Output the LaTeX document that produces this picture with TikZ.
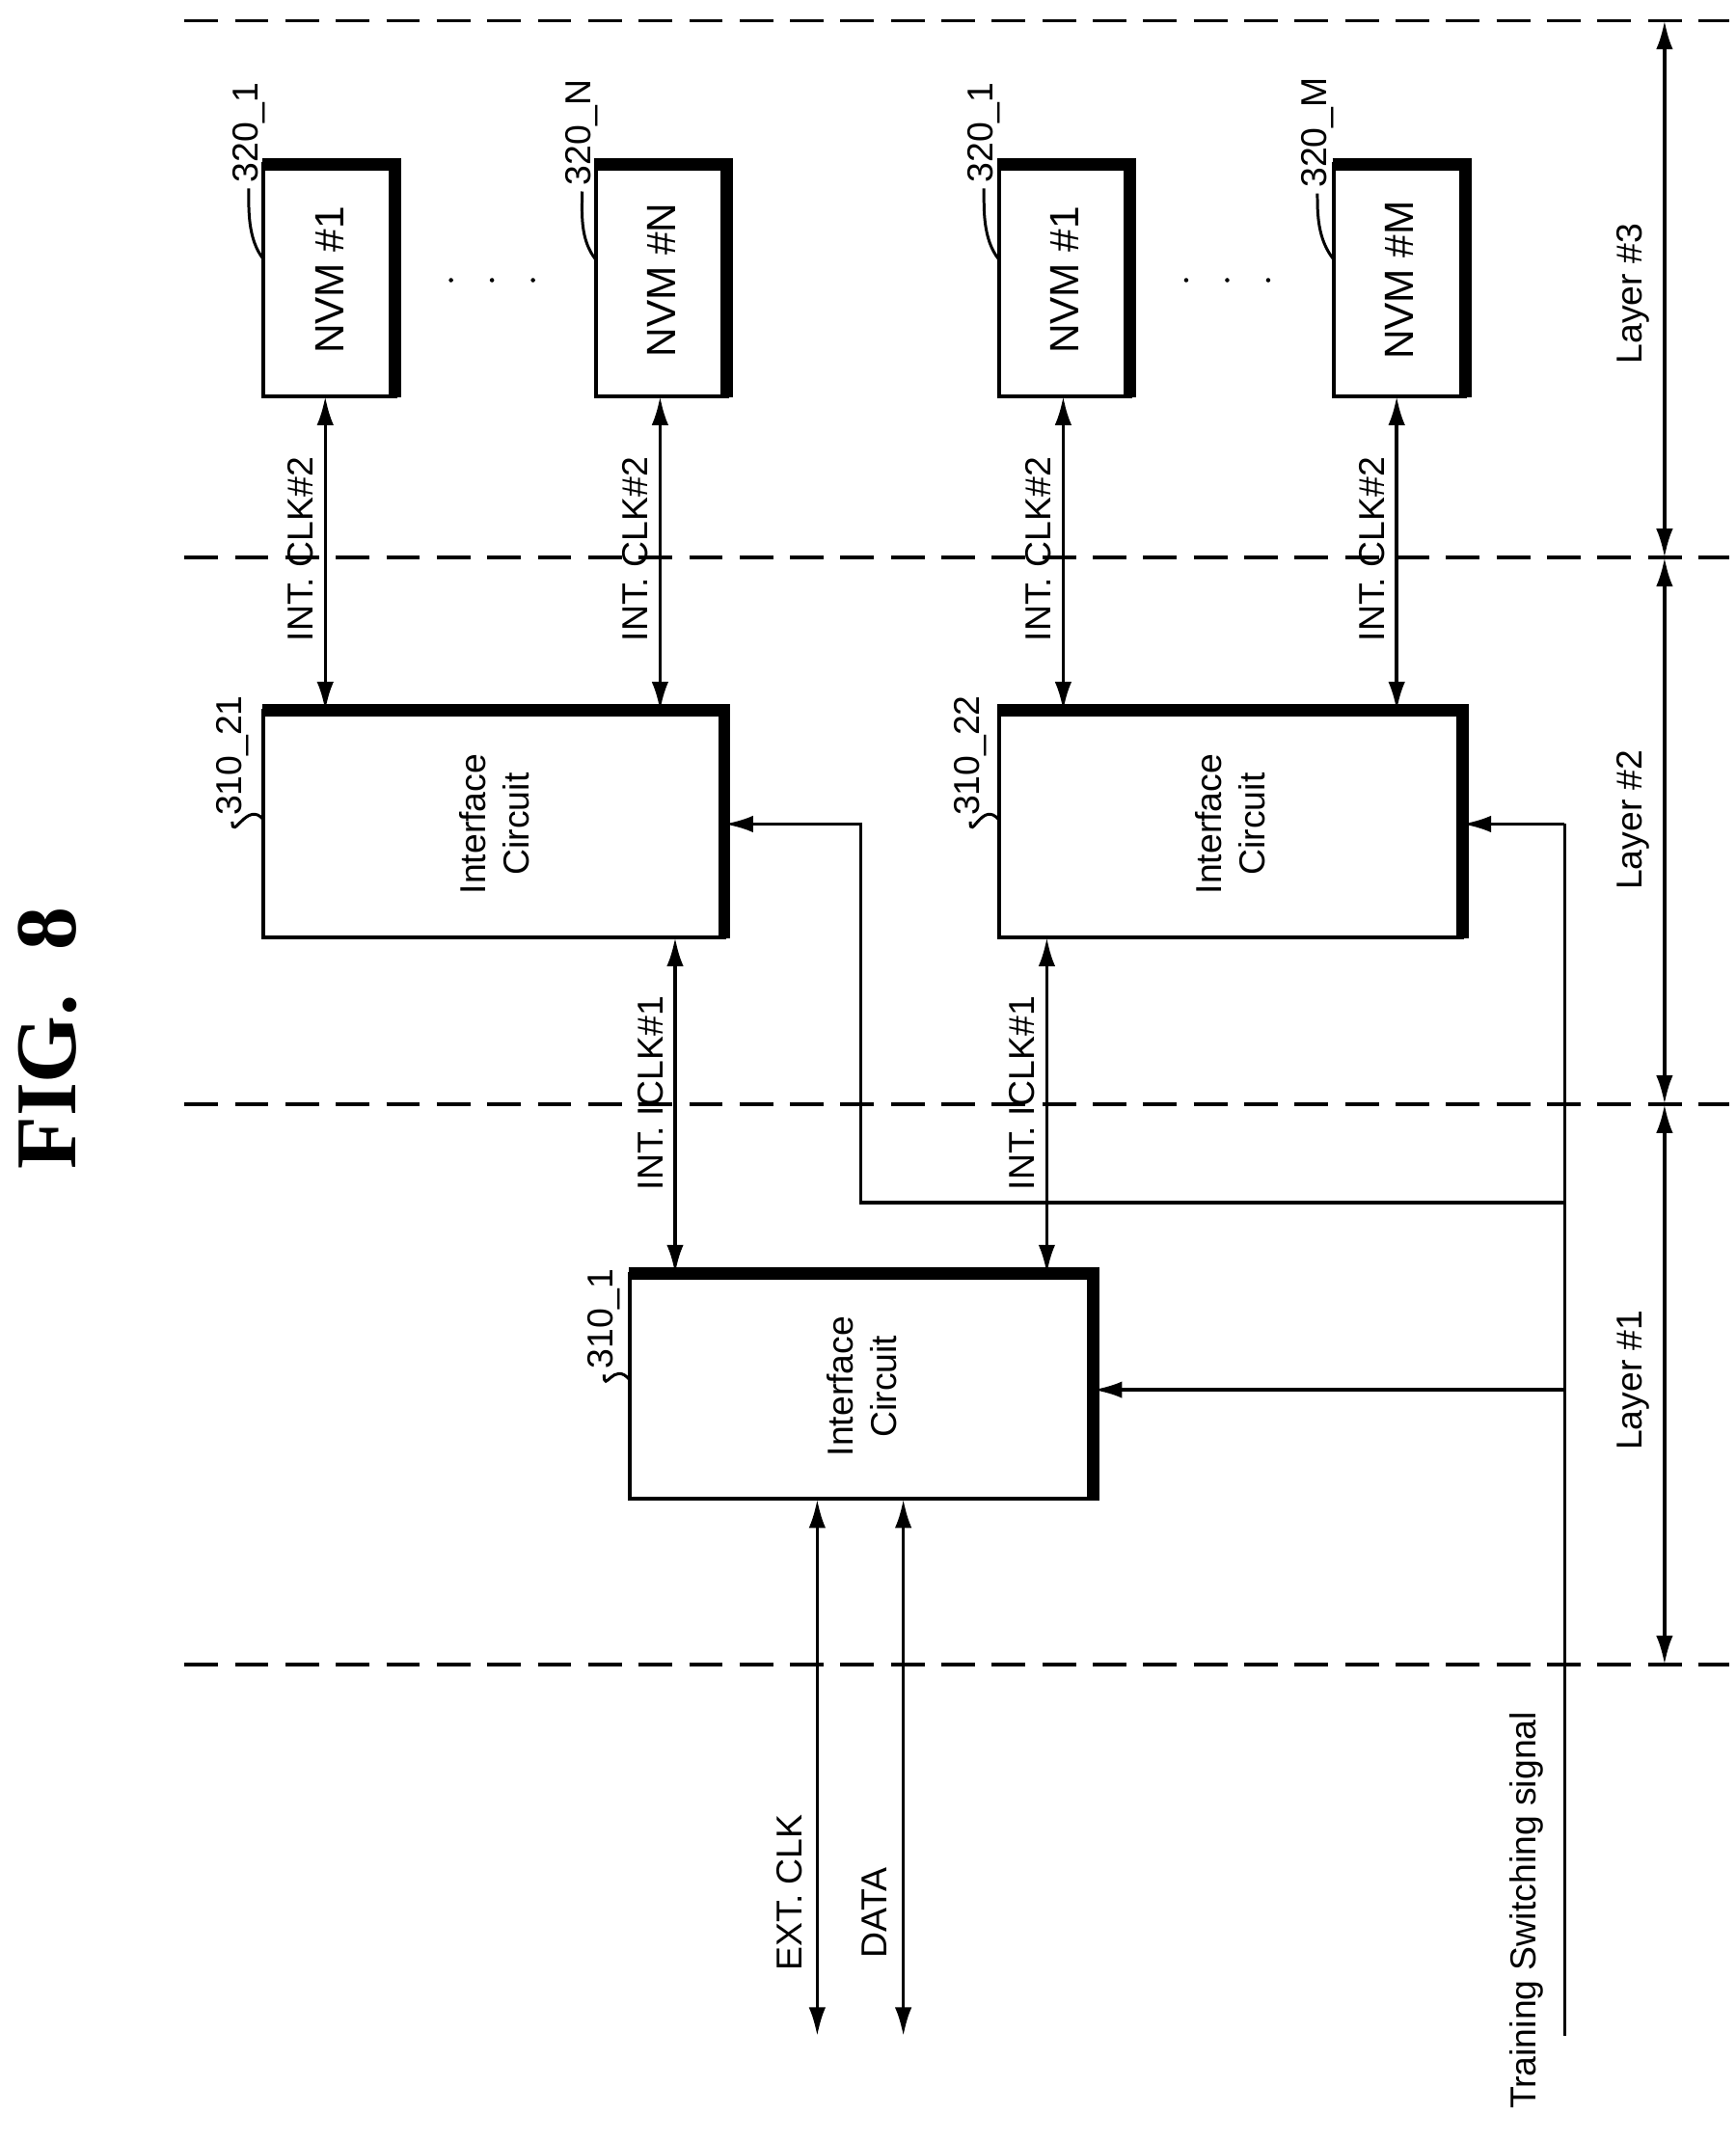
\documentclass[tikz,border=0pt]{standalone}
\usepackage{fontspec}
\setmainfont{Liberation Sans}
\newfontfamily\serifb{Liberation Serif}
\usetikzlibrary{arrows.meta}
\begin{document}
\begin{tikzpicture}[x=0.01cm,y=-0.01cm,
  box/.style={draw,line width=0.8pt},
  thick edge/.style={line width=2.6pt},
  lab/.style={rotate=90,font=\fontsize{7.5}{8.5}\selectfont,inner sep=1pt},
  arr/.style={-{Latex[length=6pt,width=3.5pt]},line width=0.7pt},
  darr/.style={{Latex[length=6pt,width=3.5pt]}-{Latex[length=6pt,width=3.5pt]},line width=0.7pt},
  layerdash/.style={dash pattern=on 7pt off 3.5pt,line width=0.7pt}]
\useasboundingbox (0,0) rectangle (1270,1566);
\node[rotate=90,font=\serifb\bfseries\fontsize{18}{20}\selectfont] (title) at (35,760) {FIG.~~8};
% dashed
\foreach \yy/\n in {15/a,408/b,808/c,1218/d}{
  \draw[layerdash] (135,\yy) -- (1265,\yy);
  \coordinate (L\n) at (1218,\yy);}
\draw[darr] (La) -- (Lb); \draw[darr] (Lb) -- (Lc); \draw[darr] (Lc) -- (Ld);
\node[lab] (l3) at (1195,215) {Layer \#3};
\node[lab] (l2) at (1195,600) {Layer \#2};
\node[lab] (l1) at (1195,1010) {Layer \#1};
% boxes macro
\def\mybox#1#2#3#4#5{%
  \draw[box] (#1,#2) rectangle (#3,#4);
  \draw[thick edge] (#1-1,#2) -- (#3,#2) -- (#3,#4+1);
  \coordinate (#5) at ({(#1+#3)/2},{(#2+#4)/2});}
\mybox{193}{120}{289}{290}{n1}
\mybox{436}{120}{532}{290}{nN}
\mybox{731}{120}{827}{290}{n2}
\mybox{976}{120}{1072}{290}{nM}
\node[lab,font=\fontsize{8.5}{9.5}\selectfont] at (n1) {NVM \#1};
\node[lab,font=\fontsize{8.5}{9.5}\selectfont] at (nN) {NVM \#N};
\node[lab,font=\fontsize{8.5}{9.5}\selectfont] at (n2) {NVM \#1};
\node[lab,font=\fontsize{8.5}{9.5}\selectfont] at (nM) {NVM \#M};
\foreach \x in {330,360,390,868,898,928}
  \fill (\x,205) circle (1.6);
\mybox{193}{520}{530}{686}{i21}
\mybox{731}{520}{1070}{686}{i22}
\mybox{461}{932}{800}{1097}{i1}
\foreach \c in {i21,i22,i1}
  \node[lab,align=center,font=\fontsize{7.5}{9}\selectfont] at (\c) {Interface\\Circuit};
% ref labels
\node[lab] (r1) at (182,97) {320\_1};
\node[lab] (r2) at (426,97) {320\_N};
\node[lab] (r3) at (720,97) {320\_1};
\node[lab] (r4) at (964,97) {320\_M};
\node[lab] (r5) at (170,553) {310\_21};
\node[lab] (r6) at (710,553) {310\_22};
\node[lab] (r7) at (442,965) {310\_1};
\foreach \r/\x/\y in {r1/193/190,r2/436/190,r3/731/190,r4/976/190,r5/193/600,r6/731/600,r7/461/1010}
  \draw[line width=0.6pt] (\r.west) .. controls +(0,15) and +(-12,-15) .. (\x,\y);
% clk2 arrows
\foreach \x/\nm in {238/a,483/b,778/c,1022/d}{
  \coordinate (t\nm) at (\x,290); \coordinate (b\nm) at (\x,520);
  \draw[darr] (t\nm) -- (b\nm);
  \node[lab] at (\x-18,402) {INT.~CLK\#2};}
\foreach \x/\nm in {494/e,766/f}{
  \coordinate (t\nm) at (\x,686); \coordinate (b\nm) at (\x,932);
  \draw[darr] (t\nm) -- (b\nm);
  \node[lab] at (\x-18,800) {INT.~ICLK\#1};}
% training
\coordinate (ts) at (1145,1490);
\coordinate (tt) at (1145,603);
\draw[line width=0.7pt] (ts) -- (tt);
\draw[arr] (tt) -- (1070,603);
\draw[arr] (1145,880) -- (630,880) -- (630,603) -- (530,603);
\draw[arr] (1145,1017) -- (800,1017);
\node[lab] (tsl) at (1117,1398) {Training Switching signal};
% ext
\coordinate (e1) at (598,1097); \coordinate (e2) at (598,1490);
\coordinate (g1) at (661,1097); \coordinate (g2) at (661,1490);
\draw[darr] (e1) -- (e2); \draw[darr] (g1) -- (g2);
\node[lab] (el) at (578,1385) {EXT. CLK};
\node[lab] (dl) at (640,1400) {DATA};
\end{tikzpicture}
\end{document}
